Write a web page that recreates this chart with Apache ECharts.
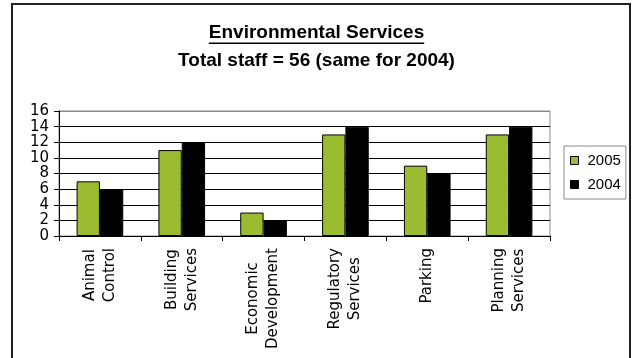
<!DOCTYPE html>
<html>
<head>
<meta charset="utf-8">
<script src="https://cdn.jsdelivr.net/npm/echarts@6/dist/echarts.min.js"></script>
<style>
  html, body { margin: 0; padding: 0; background: #fff; }
  #chart { width: 633px; height: 358px; }
</style>
</head>
<body>
<div id="chart"></div>
<script>
// Staff counts per section, Environmental Services
const categories = ['Animal\nControl', 'Building\nServices', 'Economic\nDevelopment',
                    'Regulatory\nServices', 'Parking', 'Planning\nServices'];
const staff2005 = [7, 11, 3, 13, 9, 13];
const staff2004 = [6, 12, 2, 14, 8, 14];
const seriesNames = ['2005', '2004'];
const yMin = 0, yMax = 16, yStep = 2;

const titleText = 'Environmental Services';
const subtitleText = 'Total staff = 56 (same for 2004)';

const W = 633;
const titleFont = 'bold 19px "Liberation Sans", Arial, sans-serif';

// measure the heading so the underline spans exactly its width
const ctx = document.createElement('canvas').getContext('2d');
ctx.font = titleFont;
const titleWidth = ctx.measureText(titleText).width;

// grid lines: black, except the top one which is the light plot border
const nLines = (yMax - yMin) / yStep + 1;
const splitColors = [];
for (let i = 0; i < nLines; i++) splitColors.push(i === nLines - 1 ? '#8c8c8c' : '#000');

const chart = echarts.init(document.getElementById('chart'), null, { renderer: 'canvas' });
chart.setOption({
  backgroundColor: '#fff',
  animation: false,
  title: [
    {
      text: titleText, left: 'center', top: 23, padding: 0,
      textStyle: { fontFamily: '"Liberation Sans", Arial, sans-serif', fontWeight: 'bold', fontSize: 19, color: '#000' }
    },
    {
      text: subtitleText, left: 'center', top: 51, padding: 0,
      textStyle: { fontFamily: '"Liberation Sans", Arial, sans-serif', fontWeight: 'bold', fontSize: 19, color: '#000' }
    }
  ],
  graphic: [
    {
      type: 'rect', silent: true,
      shape: { x: (W - titleWidth) / 2, y: 42.5, width: titleWidth, height: 1.5 },
      style: { fill: '#000' }
    },
    {
      type: 'rect', silent: true, z: 100,
      shape: { x: 12, y: 4, width: 618, height: 400 },
      style: { fill: 'none', stroke: '#222', lineWidth: 2 }
    }
  ],
  legend: {
    data: seriesNames,
    orient: 'vertical',
    left: 564, top: 146,
    itemWidth: 8, itemHeight: 8, itemGap: 9,
    padding: [7, 5, 7, 6],
    borderColor: '#888', borderWidth: 1,
    icon: 'rect',
    itemStyle: { borderColor: '#000', borderWidth: 1 },
    textStyle: { fontFamily: '"Liberation Sans", Arial, sans-serif', fontSize: 15, color: '#000', padding: [0, 0, 0, 4] }
  },
  grid: {
    left: 59, right: 83, top: 111, bottom: 122,
    show: true, borderColor: '#8c8c8c', borderWidth: 1, backgroundColor: '#fff'
  },
  xAxis: {
    type: 'category',
    data: categories,
    axisLine: { show: true, lineStyle: { color: '#000', width: 1 } },
    axisTick: { show: true, length: 5, lineStyle: { color: '#000' } },
    splitLine: { show: false },
    axisLabel: {
      rotate: 90, margin: 12, interval: 0,
      formatter: v => v.split('\n').map(s => '{c|' + s + '}').join('\n'),
      rich: {
        c: { align: 'center', fontFamily: '"DejaVu Sans", sans-serif', fontSize: 15, lineHeight: 20, color: '#000' }
      }
    }
  },
  yAxis: {
    type: 'value',
    min: yMin, max: yMax, interval: yStep,
    axisLine: { show: true, lineStyle: { color: '#000', width: 1 } },
    axisTick: { show: true, length: 5, lineStyle: { color: '#000' } },
    splitLine: { show: true, lineStyle: { color: splitColors, width: 1 } },
    axisLabel: { margin: 10, fontFamily: '"DejaVu Sans", sans-serif', fontSize: 15, color: '#000' }
  },
  series: [
    {
      name: seriesNames[0], type: 'bar', data: staff2005,
      barGap: '0%', barCategoryGap: '43%',
      itemStyle: { color: '#9bbb30', borderColor: '#000', borderWidth: 1 }
    },
    {
      name: seriesNames[1], type: 'bar', data: staff2004,
      barGap: '0%', barCategoryGap: '43%',
      itemStyle: { color: '#000', borderColor: '#000', borderWidth: 1 }
    }
  ]
});
</script>
</body>
</html>
